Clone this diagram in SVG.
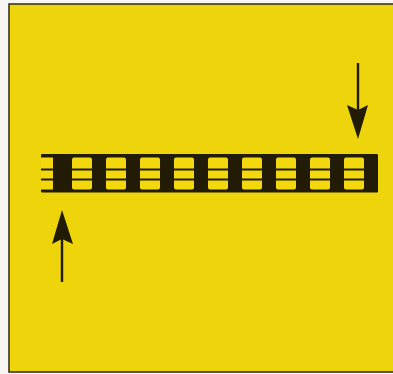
<svg xmlns="http://www.w3.org/2000/svg" width="393" height="374" viewBox="0 0 393 374">
  <defs>
    <style>
      .pad { fill: #f2d80c; }
      .div { stroke: #221c06; stroke-width: 2.2; }
      .shaft { stroke: #221c06; stroke-width: 2.4; fill: none; }
      .head { fill: #221c06; }
    </style>
  </defs>
  <rect x="0" y="0" width="393" height="374" fill="#f7f6f2"/>
  <g id="panel">
    <rect x="9" y="4" width="386" height="368" fill="#eed40a" stroke="#3a3520" stroke-width="1.6"/>
  </g>
  <g id="strip">
    <rect x="41" y="154" width="337" height="38.5" fill="#221c06" rx="1"/>
    <rect class="pad" x="41" y="157.5" width="12" height="32"/>
    <rect class="pad" x="72" y="157.5" width="20" height="32" rx="2"/>
    <rect class="pad" x="106" y="157.5" width="20" height="32" rx="2"/>
    <rect class="pad" x="140" y="157.5" width="20" height="32" rx="2"/>
    <rect class="pad" x="174" y="157.5" width="20" height="32" rx="2"/>
    <rect class="pad" x="208" y="157.5" width="20" height="32" rx="2"/>
    <rect class="pad" x="242" y="157.5" width="20" height="32" rx="2"/>
    <rect class="pad" x="276" y="157.5" width="20" height="32" rx="2"/>
    <rect class="pad" x="310" y="157.5" width="20" height="32" rx="2"/>
    <rect class="pad" x="344" y="157.5" width="20" height="32" rx="2"/>
    <line class="div" x1="41" y1="169.5" x2="378" y2="169.5"/>
    <line class="div" x1="41" y1="179.5" x2="378" y2="179.5"/>
  </g>
  <g id="connectors">
    <g id="arrow-up">
      <line class="shaft" x1="62" y1="238" x2="62" y2="282"/>
      <polygon class="head" points="62,210 73,244 62,239 52,244"/>
    </g>
    <g id="arrow-down">
      <line class="shaft" x1="358" y1="63" x2="358" y2="110"/>
      <polygon class="head" points="358,139 368,105 358,110 347,105"/>
    </g>
  </g>
</svg>
